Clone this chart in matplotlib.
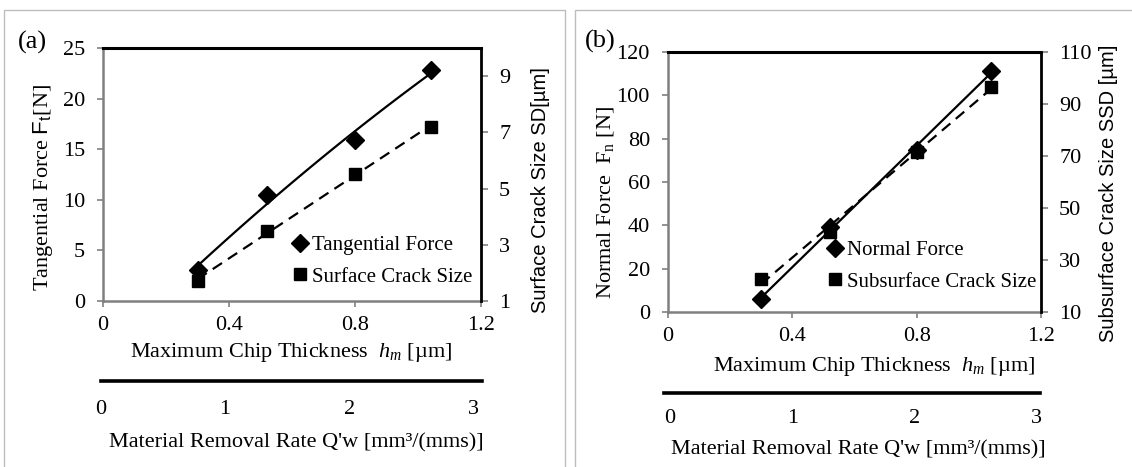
import numpy as np
import matplotlib
matplotlib.use("Agg")
import matplotlib.pyplot as plt
from matplotlib.patches import Rectangle

plt.rcParams["font.family"] = ["Liberation Serif", "DejaVu Serif"]
plt.rcParams["mathtext.fontset"] = "custom"
plt.rcParams["mathtext.rm"] = "Liberation Serif"
plt.rcParams["mathtext.it"] = "Liberation Serif:italic"
plt.rcParams["mathtext.sf"] = "Liberation Sans"

# ---- data -------------------------------------------------------------
chip_thickness = [0.30, 0.52, 0.80, 1.04]          # h_m [um]
tangential_force = [3.1, 10.5, 15.9, 22.8]          # F_t [N]
surface_crack = [1.7, 3.5, 5.5, 7.2]                # SD [um]
normal_force = [6.0, 39.4, 74.8, 111.2]             # F_n [N]
subsurface_crack = [22.6, 40.6, 71.4, 96.7]         # SSD [um]

hm_ticks = [0, 0.4, 0.8, 1.2]
hm_ticklabels = ["0", "0.4", "0.8", "1.2"]
mrr_ticks = [0, 1, 2, 3]
ft_ticks = [0, 5, 10, 15, 20, 25]
sd_ticks = [1, 3, 5, 7, 9]
fn_ticks = [0, 20, 40, 60, 80, 100, 120]
ssd_ticks = [10, 30, 50, 70, 90, 110]

W, H = 1132, 467
fig = plt.figure(figsize=(W / 100, H / 100), dpi=100)
fig.patch.set_facecolor("white")

GREY = "#808080"
TICK_FS = 16
LABEL_FS = 16
LEG_FS = 15


def fx(px):
    return px / W


def fy(py):
    return 1 - py / H


def rect(l, t, r, b):
    return [fx(l), fy(b), fx(r) - fx(l), fy(t) - fy(b)]


def fit_line(ax, x, y, deg, **kw):
    coef = np.polyfit(x, y, deg)
    xs = np.linspace(min(x), max(x), 100)
    ax.plot(xs, np.polyval(coef, xs), color="black", lw=1.6, **kw)


def panel(box, sec_box, sec_lim, left, right, legend, labels, tag):
    ax = fig.add_axes(rect(*box))
    ax2 = ax.twinx()

    x = chip_thickness
    yl, yl_lim, yl_ticks, deg_l = left
    yr, yr_lim, yr_ticks, deg_r = right

    fit_line(ax, x, yl, deg_l, ls="-")
    fit_line(ax2, x, yr, deg_r, ls=(0, (5, 3.2)))
    h1, = ax.plot(x, yl, ls="none", marker="D", ms=9.5, color="black")
    h2, = ax2.plot(x, yr, ls="none", marker="s", ms=9, color="black")

    ax.set_xlim(0, 1.2)
    ax.set_xticks(hm_ticks)
    ax.set_xticklabels(hm_ticklabels)
    ax.set_ylim(*yl_lim)
    ax.set_yticks(yl_ticks)
    ax2.set_ylim(*yr_lim)
    ax2.set_yticks(yr_ticks)

    for s in ("left", "bottom"):
        ax.spines[s].set_color(GREY)
        ax.spines[s].set_linewidth(1.8)
    ax.spines["top"].set_color("black")
    ax.spines["top"].set_linewidth(2.2)
    ax.spines["right"].set_visible(False)
    for s in ("left", "bottom", "top"):
        ax2.spines[s].set_visible(False)
    ax2.spines["right"].set_color("black")
    ax2.spines["right"].set_linewidth(2.0)

    ax.tick_params(axis="both", direction="out", length=4, width=1.2,
                   color=GREY, labelsize=TICK_FS)
    ax.tick_params(axis="x", pad=7)
    ax.tick_params(axis="y", pad=9)
    ax2.tick_params(axis="y", direction="out", length=5, width=1.2,
                    color=GREY, labelsize=TICK_FS, pad=8)

    # secondary scale: material removal rate
    sec = fig.add_axes(rect(sec_box[0], sec_box[2], sec_box[1], sec_box[2] + 0.5))
    sec.set_xlim(*sec_lim)
    sec.set_xticks(mrr_ticks)
    sec.set_yticks([])
    sec.patch.set_alpha(0)
    for s in ("left", "right", "top"):
        sec.spines[s].set_visible(False)
    sec.spines["bottom"].set_color("black")
    sec.spines["bottom"].set_linewidth(2.6)
    sec.tick_params(axis="x", length=0, labelsize=TICK_FS, pad=sec_box[3])

    # axis titles
    xl, sl, yll, yrl = labels
    ax.set_xlabel(xl[0], fontsize=LABEL_FS, va="center", ha="center")
    ax.xaxis.set_label_coords(fx(xl[1]), fy(xl[2]), transform=fig.transFigure)
    sec.set_xlabel(sl[0], fontsize=LABEL_FS, va="center", ha="center")
    sec.xaxis.set_label_coords(fx(sl[1]), fy(sl[2]), transform=fig.transFigure)
    ax.set_ylabel(yll[0], fontsize=LABEL_FS, va="center", ha="center")
    ax.yaxis.set_label_coords(fx(yll[1]), fy(yll[2]), transform=fig.transFigure)
    ax2.set_ylabel(yrl[0], fontsize=14.5, va="center", ha="center",
                   rotation=90, family=["Liberation Sans", "DejaVu Sans"])
    ax2.yaxis.set_label_coords(fx(yrl[1]), fy(yrl[2]), transform=fig.transFigure)

    names, lx, ly = legend
    ax2.legend([h1, h2], names, loc="center left",
               bbox_to_anchor=(fx(lx), fy(ly)), bbox_transform=fig.transFigure,
               frameon=False, fontsize=LEG_FS, handlelength=0.6,
               handletextpad=0.28, labelspacing=0.58, borderpad=0,
               borderaxespad=0)

    fig.text(fx(tag[1]), fy(tag[2]), tag[0], fontsize=19,
             ha="center", va="center")
    return ax


# panel frames
fig.add_artist(Rectangle((fx(4), fy(480)), fx(565) - fx(4), fy(10) - fy(480),
                         transform=fig.transFigure, fill=False,
                         edgecolor="#bdbdbd", lw=1.0))
fig.add_artist(Rectangle((fx(575), fy(480)), fx(1140) - fx(575), fy(10) - fy(480),
                         transform=fig.transFigure, fill=False,
                         edgecolor="#bdbdbd", lw=1.0))

# (a) tangential force / surface crack size
panel(box=(103, 48, 481, 301),
      sec_box=(101, 482, 380, 14),
      sec_lim=(0, 3.07),
      left=(tangential_force, (0, 25), ft_ticks, 2),
      right=(surface_crack, (1, 10), sd_ticks, 1),
      legend=(["Tangential Force", "Surface Crack Size"], 294, 261),
      labels=(("Maximum Chip Thickness  $h_m$ [µm]", 291, 352),
              ("Material Removal Rate Q'w [mm³/(mms)]", 296, 443),
              ("Tangential Force $\\mathsf{F_t}$[N]", 43, 188),
              ("Surface Crack Size SD[µm]", 540, 190)),
      tag=("(a)", 32, 42))

# (b) normal force / subsurface crack size
panel(box=(668, 52, 1041, 312),
      sec_box=(664, 1040, 392, 12),
      sec_lim=(-0.05, 3.03),
      left=(normal_force, (0, 120), fn_ticks, 1),
      right=(subsurface_crack, (10, 110), ssd_ticks, 1),
      legend=(["Normal Force", "Subsurface Crack Size"], 829, 266),
      labels=(("Maximum Chip Thickness  $h_m$ [µm]", 874, 367),
              ("Material Removal Rate Q'w [mm³/(mms)]", 858, 450),
              ("Normal Force  $\\mathrm{F_n}$ [N]", 605, 203),
              ("Subsurface Crack Size SSD [µm]", 1109, 193)),
      tag=("(b)", 600, 41))

fig.savefig("out.png", dpi=100)
